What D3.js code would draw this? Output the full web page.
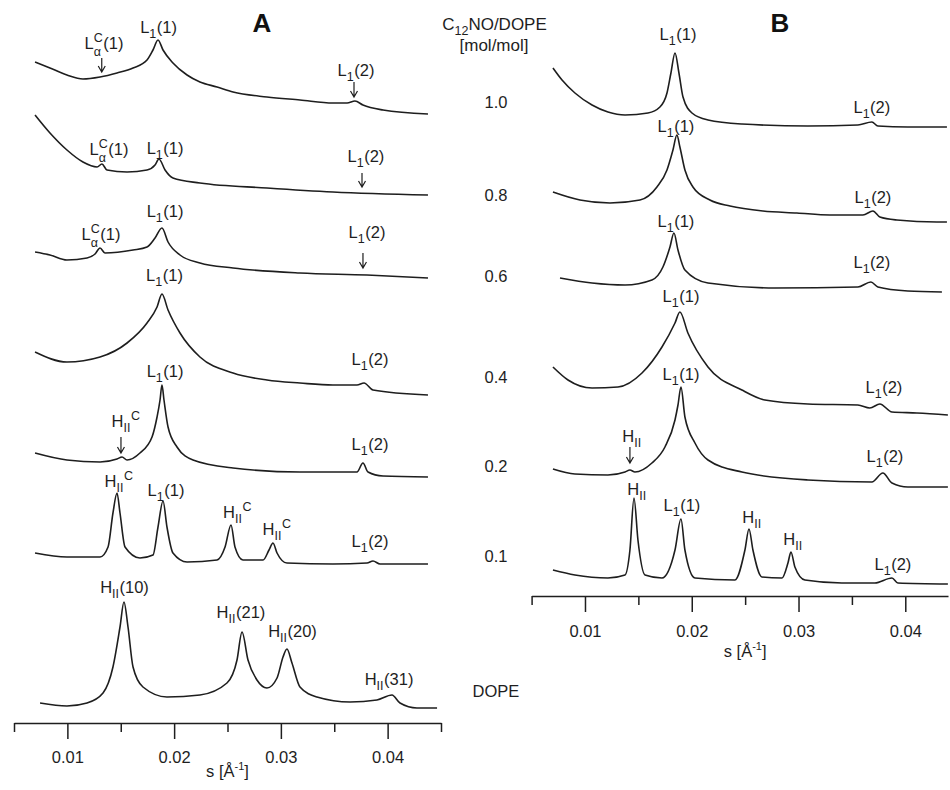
<!DOCTYPE html>
<html><head><meta charset="utf-8">
<script src="https://cdn.jsdelivr.net/npm/d3@7"></script>
<style>body{margin:0;background:#fff}</style>
</head><body>
<svg id="chart" width="950" height="790"></svg>
<script>
// ---------------- DATA (s in 1/Å, intensity in arbitrary stacked units) ----------------
const ratios = ["1.0", "0.8", "0.6", "0.4", "0.2", "0.1", "DOPE"];
const ratioLevels = [61.5, 52.2, 44.1, 34.0, 25.1, 16.1, 2.6];   // a.u. on panel A scale
const majorTicks = [0.01, 0.02, 0.03, 0.04];
const minorTicksA = [0.005, 0.015, 0.025, 0.035, 0.045];
const minorTicksB = [0.005, 0.015, 0.025, 0.035];

// Panel A curves
const a10 = [[0.00697,66.1],[0.00837,65.5],[0.00996,64.8],[0.01146,64.4],[0.01306,64.6],[0.01465,65.0],[0.01615,65.5],[0.01746,66.3],[0.01802,67.3],[0.01849,68.3],[0.01896,67.3],[0.01989,66.0],[0.02121,64.8],[0.02242,64.1],[0.02402,63.6],[0.02552,63.1],[0.0287,62.6],[0.03179,62.3],[0.03488,62.0],[0.0362,62.0],[0.03694,62.2],[0.03769,61.8],[0.03957,61.3],[0.04378,60.9]];
const a08 = [[0.00697,60.8],[0.00837,59.0],[0.00996,57.3],[0.01146,56.1],[0.01278,55.6],[0.01324,55.9],[0.01371,55.3],[0.01559,55.1],[0.01746,55.3],[0.01821,55.8],[0.01858,56.4],[0.01915,55.3],[0.01989,54.5],[0.02242,54.0],[0.0287,53.5],[0.03488,53.1],[0.04378,52.8]];
const a06 = [[0.00697,47.1],[0.00837,46.8],[0.00996,46.3],[0.01184,46.5],[0.01259,46.9],[0.01306,47.5],[0.01352,47.0],[0.01615,47.3],[0.01746,47.6],[0.01821,48.5],[0.01886,49.5],[0.01943,48.1],[0.02055,46.8],[0.02242,46.0],[0.02552,45.5],[0.03179,45.0],[0.03807,44.8],[0.04378,44.5]];
const a04 = [[0.00697,37.1],[0.00996,36.1],[0.01306,36.6],[0.01559,38.0],[0.01746,40.0],[0.0184,41.6],[0.01886,42.9],[0.01943,41.3],[0.02055,39.0],[0.02242,36.6],[0.02552,35.0],[0.0287,34.3],[0.03179,34.0],[0.03488,33.8],[0.03713,33.8],[0.03779,34.0],[0.03863,33.3],[0.04378,32.8]];
const a02 = [[0.00697,27.0],[0.00996,26.3],[0.01306,26.1],[0.01465,26.4],[0.01512,26.6],[0.01559,26.3],[0.0168,27.0],[0.01793,28.6],[0.0184,30.6],[0.01868,32.3],[0.01886,33.8],[0.01905,32.3],[0.01943,29.6],[0.02027,27.6],[0.02177,26.3],[0.02552,25.5],[0.03179,25.1],[0.03713,25.1],[0.03769,26.0],[0.03816,25.1],[0.03957,24.7],[0.04378,24.6]];
const a01 = [[0.00697,17.0],[0.00996,16.6],[0.01306,16.6],[0.01381,17.6],[0.01427,21.0],[0.01465,23.0],[0.01493,21.0],[0.0154,17.6],[0.0168,16.5],[0.01802,16.8],[0.01849,19.6],[0.01896,22.2],[0.01933,19.6],[0.01989,17.0],[0.02121,16.1],[0.02402,16.3],[0.02477,17.6],[0.02533,19.8],[0.0257,17.6],[0.02645,16.3],[0.02833,16.3],[0.02889,17.3],[0.02926,18.0],[0.02964,17.0],[0.03057,16.0],[0.03488,15.9],[0.03807,16.0],[0.03863,16.2],[0.03929,15.9],[0.04378,15.9]];
const aDOPE = [[0.00744,2.0],[0.00996,1.7],[0.01184,2.0],[0.01334,3.0],[0.01427,5.6],[0.01493,9.6],[0.0153,12.1],[0.01568,9.6],[0.01615,5.6],[0.01708,3.6],[0.01933,2.6],[0.02242,2.8],[0.02495,4.0],[0.02589,6.3],[0.02636,9.1],[0.02692,6.3],[0.02776,4.3],[0.0287,3.5],[0.02964,4.5],[0.0302,6.6],[0.03057,7.4],[0.03104,6.0],[0.03179,3.6],[0.03338,2.6],[0.03648,2.1],[0.039,2.3],[0.04041,2.8],[0.04116,2.0],[0.04275,1.5],[0.04463,1.5]];

// Panel B curves
const b10 = [[0.007,52.8],[0.00785,51.6],[0.00906,50.3],[0.01066,49.1],[0.01215,48.4],[0.01375,48.1],[0.0159,48.3],[0.01702,48.9],[0.01768,50.3],[0.01805,52.3],[0.01843,54.3],[0.0188,52.3],[0.01918,49.9],[0.02002,48.3],[0.02152,47.6],[0.0247,47.2],[0.03088,47.0],[0.03556,47.1],[0.03687,47.4],[0.03743,47.0],[0.04024,46.9],[0.0439,46.9]];
const b08 = [[0.007,40.4],[0.00953,39.6],[0.01234,39.3],[0.01515,39.6],[0.01674,40.9],[0.01768,42.6],[0.01824,44.6],[0.01861,46.1],[0.01889,44.9],[0.01936,42.6],[0.02011,40.9],[0.0217,39.6],[0.02358,39.0],[0.02667,38.5],[0.02985,38.3],[0.03294,38.1],[0.03603,38.1],[0.03697,38.5],[0.03762,37.9],[0.03921,37.6],[0.04296,37.4],[0.0439,37.4]];
const b06 = [[0.00766,31.8],[0.01066,31.3],[0.01375,31.1],[0.01627,31.6],[0.0173,32.9],[0.01796,34.9],[0.01833,36.3],[0.01871,34.6],[0.01936,32.6],[0.02152,31.3],[0.02779,30.8],[0.03556,30.9],[0.03678,31.4],[0.03743,30.9],[0.04024,30.5],[0.04343,30.4]];
const b04 = [[0.007,22.9],[0.00841,21.6],[0.01066,20.8],[0.01309,20.9],[0.01534,22.3],[0.01721,24.9],[0.01843,27.3],[0.01889,28.4],[0.01964,26.3],[0.02152,22.9],[0.0247,20.6],[0.02685,19.6],[0.03088,19.2],[0.03556,19.1],[0.03668,18.8],[0.03762,19.2],[0.03875,18.4],[0.04109,18.3],[0.04399,18.1]];
const b02 = [[0.007,12.7],[0.00906,12.2],[0.01215,12.1],[0.01375,12.4],[0.01421,12.6],[0.01468,12.4],[0.01627,13.3],[0.01749,14.9],[0.01843,17.6],[0.01871,19.1],[0.01899,20.9],[0.01936,17.9],[0.0203,15.3],[0.02152,13.6],[0.0247,12.4],[0.03088,11.6],[0.03687,11.4],[0.0379,12.3],[0.03875,11.3],[0.04024,10.9],[0.04399,10.9]];
const b01 = [[0.007,2.6],[0.00906,2.1],[0.01215,1.8],[0.01375,2.1],[0.01421,4.6],[0.01459,9.8],[0.01496,5.6],[0.01562,2.1],[0.01721,1.8],[0.01843,4.6],[0.01899,7.7],[0.01936,4.6],[0.0203,1.8],[0.02404,1.6],[0.02498,4.6],[0.02536,6.7],[0.02573,4.6],[0.02657,1.9],[0.02845,1.8],[0.02901,3.3],[0.02929,4.4],[0.02966,2.9],[0.0306,1.6],[0.03406,1.3],[0.03715,1.3],[0.03875,1.8],[0.03931,1.3],[0.04399,1.2]];

const curvesA = [a10, a08, a06, a04, a02, a01, aDOPE];
const curvesB = [b10, b08, b06, b04, b02, b01];

// Peak annotations: [text, s (centre), a.u. (baseline)]
const labelsA = [
  ["L^{C}_{α}(1)", 0.01343, 67.4], ["L_{1}(1)", 0.01854, 69.0], ["L_{1}(2)", 0.03704, 64.7],
  ["L^{C}_{α}(1)", 0.0139, 56.8], ["L_{1}(1)", 0.01915, 56.9], ["L_{1}(2)", 0.03797, 56.1],
  ["L^{C}_{α}(1)", 0.01315, 48.3], ["L_{1}(1)", 0.01915, 50.6], ["L_{1}(2)", 0.03807, 48.5],
  ["L_{1}(1)", 0.0191, 44.2], ["L_{1}(2)", 0.03835, 35.8],
  ["L_{1}(1)", 0.01915, 34.6], ["H_{II}^{C}", 0.01549, 29.6], ["L_{1}(2)", 0.03835, 27.3],
  ["H_{II}^{C}", 0.01484, 23.6], ["L_{1}(1)", 0.01924, 22.7], ["H_{II}^{C}", 0.02594, 20.5], ["H_{II}^{C}", 0.02964, 18.8], ["L_{1}(2)", 0.03835, 17.6],
  ["H_{II}(10)", 0.01535, 13.0], ["H_{II}(21)", 0.02626, 10.5], ["H_{II}(20)", 0.03109, 8.6], ["H_{II}(31)", 0.04013, 3.8]
];
const labelsB = [
  ["L_{1}(1)", 0.01871, 55.6], ["L_{1}(2)", 0.03687, 48.3],
  ["L_{1}(1)", 0.01852, 46.4], ["L_{1}(2)", 0.03697, 39.3],
  ["L_{1}(1)", 0.01852, 36.9], ["L_{1}(2)", 0.03687, 32.8],
  ["L_{1}(1)", 0.01899, 29.4], ["L_{1}(2)", 0.038, 20.3],
  ["L_{1}(1)", 0.01899, 21.6], ["H_{II}", 0.0144, 15.4], ["L_{1}(2)", 0.03809, 13.4],
  ["H_{II}", 0.01487, 10.1], ["L_{1}(1)", 0.01908, 8.5], ["H_{II}", 0.02564, 7.3], ["H_{II}", 0.02948, 5.1], ["L_{1}(2)", 0.03884, 2.6]
];
// Arrows: [s, a.u. top, a.u. bottom]
const arrowsA = [[0.01322, 66.5, 65.1], [0.03685, 64.1, 62.6], [0.0376, 55.0, 53.6], [0.03769, 47.0, 45.5], [0.01502, 28.6, 27.0]];
const arrowsB = [[0.01421, 14.9, 13.3]];

// ---------------- DRAWING ----------------
const FONT = "'Liberation Sans', Arial, Helvetica, sans-serif";
const INK = "#1e1e1e";
const svg = d3.select("#chart").style("font-family", FONT);

const xA = d3.scaleLinear().domain([0.005, 0.045]).range([14, 441]);
const yA = d3.scaleLinear().domain([0, 70]).range([723, 23]);
const xB = d3.scaleLinear().domain([0.005, 0.044]).range([531.6, 948]);
const yB = d3.scaleLinear().domain([0, 58]).range([596, 16]);

function drawCurves(data, x, y) {
  const line = d3.line().x(d => x(d[0])).y(d => y(d[1])).curve(d3.curveMonotoneX);
  svg.append("g").selectAll("path").data(data).join("path")
    .attr("d", line).attr("fill", "none").attr("stroke", INK)
    .attr("stroke-width", 1.6).attr("stroke-linejoin", "round");
}
drawCurves(curvesA, xA, yA);
drawCurves(curvesB, xB, yB);

function drawAxis(x, yPix, minors, labelBase, titleBase) {
  const g = svg.append("g").attr("transform", `translate(0,${yPix})`);
  g.call(d3.axisBottom(x).tickValues(majorTicks).tickSize(16).tickSizeOuter(0).tickFormat(d3.format(".2f")));
  const gm = svg.append("g").attr("transform", `translate(0,${yPix})`);
  gm.call(d3.axisBottom(x).tickValues(minors).tickSize(9).tickSizeOuter(0).tickFormat(""));
  gm.select(".domain").remove();
  [g, gm].forEach(s => {
    s.selectAll("path,line").attr("stroke", INK).attr("stroke-width", 1.5);
  });
  g.selectAll("text").attr("y", labelBase).attr("dy", 0)
    .attr("font-size", 16.5).attr("font-family", FONT).attr("fill", INK);
  const cx = x(0.025);
  const t = svg.append("text").attr("x", cx).attr("y", yPix + titleBase)
    .attr("text-anchor", "middle").attr("font-size", 16.5).attr("fill", INK);
  t.append("tspan").text("s [Å");
  t.append("tspan").text("-1").attr("font-size", 11).attr("dy", -7);
  t.append("tspan").text("]").attr("dy", 7);
}
drawAxis(xA, 723, minorTicksA, 40, 54);
drawAxis(xB, 596, minorTicksB, 41, 61);

// rich label with sub/superscripts
function richLabel(str, cx, by) {
  const toks = [];
  const re = /\^\{([^}]*)\}|_\{([^}]*)\}|([^\^_]+)/g;
  let m;
  while ((m = re.exec(str)) !== null) {
    if (m[1] !== undefined) toks.push({t: "sup", s: m[1]});
    else if (m[2] !== undefined) toks.push({t: "sub", s: m[2]});
    else toks.push({t: "n", s: m[3]});
  }
  const g = svg.append("g");
  let xc = 0;
  for (let i = 0; i < toks.length; i++) {
    const tk = toks[i];
    const mk = (tok, stacked) => {
      const size = tok.t === "n" ? 16.5 : 12.5;
      const dy = tok.t === "sup" ? -7.5 : tok.t === "sub" ? (stacked ? 7 : 4.5) : 0;
      const el = g.append("text").attr("x", xc).attr("y", dy)
        .attr("font-size", size).attr("fill", INK).text(tok.s);
      return el.node().getComputedTextLength();
    };
    if (tk.t === "sup" && toks[i + 1] && toks[i + 1].t === "sub") {
      const w1 = mk(tk, true), w2 = mk(toks[i + 1], true);
      xc += Math.max(w1, w2) + 0.5;
      i++;
    } else {
      xc += mk(tk, false) + (tk.t === "n" ? 0 : 0.5);
    }
  }
  g.attr("transform", `translate(${cx - xc / 2},${by})`);
}
labelsA.forEach(d => richLabel(d[0], xA(d[1]), yA(d[2])));
labelsB.forEach(d => richLabel(d[0], xB(d[1]), yB(d[2])));

function drawArrows(data, x, y) {
  svg.append("g").selectAll("path").data(data).join("path")
    .attr("d", d => {
      const px = x(d[0]), y0 = y(d[1]), y1 = y(d[2]);
      return `M${px},${y0}L${px},${y1}M${px - 3.5},${y1 - 6}L${px},${y1}L${px + 3.5},${y1 - 6}`;
    })
    .attr("fill", "none").attr("stroke", INK).attr("stroke-width", 1.2);
}
drawArrows(arrowsA, xA, yA);
drawArrows(arrowsB, xB, yB);

// ratio column
svg.append("g").selectAll("text").data(ratios).join("text")
  .attr("x", 496).attr("y", (d, i) => yA(ratioLevels[i]))
  .attr("text-anchor", "middle").attr("font-size", 16.5).attr("fill", INK).text(d => d);

const hdr = svg.append("text").attr("x", 494.5).attr("y", 30).attr("text-anchor", "middle")
  .attr("font-size", 17).attr("fill", INK);
hdr.append("tspan").text("C");
hdr.append("tspan").text("12").attr("font-size", 12.5).attr("dy", 4.5);
hdr.append("tspan").text("NO/DOPE").attr("dy", -4.5);
svg.append("text").attr("x", 494).attr("y", 51).attr("text-anchor", "middle")
  .attr("font-size", 17).attr("fill", INK).text("[mol/mol]");

// panel letters
svg.append("text").attr("x", 262).attr("y", 32).attr("text-anchor", "middle")
  .attr("font-size", 26).attr("font-weight", "bold").attr("fill", "#111").text("A");
svg.append("text").attr("x", 780).attr("y", 32).attr("text-anchor", "middle")
  .attr("font-size", 26).attr("font-weight", "bold").attr("fill", "#111").text("B");
</script>
</body></html>
